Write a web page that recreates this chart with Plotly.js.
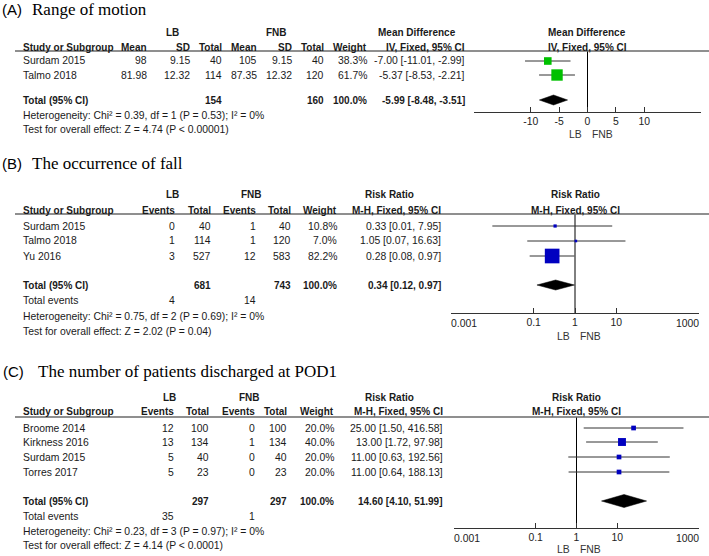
<!DOCTYPE html>
<html><head><meta charset="utf-8">
<script src="https://cdn.plot.ly/plotly-3.0.1.min.js"></script>
<style>html,body{margin:0;padding:0;background:#fff}#chart{width:709px;height:556px}</style>
</head><body><div id="chart"></div>
<script>
// ---------- Panel A: Range of motion ----------
const studiesA = ['Surdam 2015', 'Talmo 2018'];
const meanLB_A = [98, 81.98];
const sdLB_A = [9.15, 12.32];
const totalLB_A = [40, 114];
const meanFNB_A = [105, 87.35];
const sdFNB_A = [9.15, 12.32];
const totalFNB_A = [40, 120];
const weightA = [38.3, 61.7];
const mdA = [-7.00, -5.37];
const mdLowA = [-11.01, -8.53];
const mdHighA = [-2.99, -2.21];
const pooledA = [-5.99, -8.48, -3.51];
const sumTotalsA = [154, 160];
const hetA = 'Heterogeneity: Chi² = 0.39, df = 1 (P = 0.53); I² = 0%';
const testA = 'Test for overall effect: Z = 4.74 (P &lt; 0.00001)';
const tickValsA = [-10, -5, 0, 5, 10];
const tickTextA = ['-10', '-5', '0', '5', '10'];

// ---------- Panel B: The occurrence of fall ----------
const studiesB = ['Surdam 2015', 'Talmo 2018', 'Yu 2016'];
const eventsLB_B = [0, 1, 3];
const totalLB_B = [40, 114, 527];
const eventsFNB_B = [1, 1, 12];
const totalFNB_B = [40, 120, 583];
const weightB = [10.8, 7.0, 82.2];
const rrB = [0.33, 1.05, 0.28];
const rrLowB = [0.01, 0.07, 0.08];
const rrHighB = [7.95, 16.63, 0.97];
const pooledB = [0.34, 0.12, 0.97];
const sumTotalsB = [681, 743];
const sumEventsB = [4, 14];
const hetB = 'Heterogeneity: Chi² = 0.75, df = 2 (P = 0.69); I² = 0%';
const testB = 'Test for overall effect: Z = 2.02 (P = 0.04)';

// ---------- Panel C: discharged at POD1 ----------
const studiesC = ['Broome 2014', 'Kirkness 2016', 'Surdam 2015', 'Torres 2017'];
const eventsLB_C = [12, 13, 5, 5];
const totalLB_C = [100, 134, 40, 23];
const eventsFNB_C = [0, 1, 0, 0];
const totalFNB_C = [100, 134, 40, 23];
const weightC = [20.0, 40.0, 20.0, 20.0];
const rrC = [25.00, 13.00, 11.00, 11.00];
const rrLowC = [1.50, 1.72, 0.63, 0.64];
const rrHighC = [416.58, 97.98, 192.56, 188.13];
const pooledC = [14.60, 4.10, 51.99];
const sumTotalsC = [297, 297];
const sumEventsC = [35, 1];
const hetC = 'Heterogeneity: Chi² = 0.23, df = 3 (P = 0.97); I² = 0%';
const testC = 'Test for overall effect: Z = 4.14 (P &lt; 0.0001)';

const tickValsLog = [0.001, 0.1, 1, 10, 1000];
const tickTextLog = ['0.001', '0.1', '1', '10', '1000'];

// ---------- layout helpers ----------
const W = 709, H = 556;
const FONT = 'Liberation Sans, Arial, sans-serif';
const SERIF = 'Liberation Serif, Times New Roman, serif';
const TXT = '#1a1a1a';
const REG = 10.4, BOLD = 10;
const annotations = [];
const shapes = [];
const traces = [];

function ann(x, y, text, anchor, o) {
  o = o || {};
  annotations.push({
    xref: 'paper', yref: 'paper', x: x / W, y: 1 - y / H, text: text,
    showarrow: false, xanchor: anchor, yanchor: 'middle', borderpad: 0, borderwidth: 0,
    font: {family: o.family || FONT, size: o.size || REG, color: o.color || TXT}
  });
}
function bann(x, y, text, anchor) {
  ann(x, y, '<b>' + text + '</b>', anchor, {size: BOLD});
}
function hline(y, x0, x1) {
  shapes.push({type: 'line', xref: 'paper', yref: 'paper', x0: x0 / W, x1: x1 / W,
    y0: 1 - y / H, y1: 1 - y / H, line: {color: '#6a6a6a', width: 1.6}});
}
const f2 = v => v.toFixed(2);
const ci = (e, l, h) => f2(e) + ' [' + f2(l) + ', ' + f2(h) + ']';
const pct = w => w.toFixed(1) + '%';
const sqSize = w => 1.5 + 0.16 * w;

// end tick labels of the log axes sit inside the axis ends: drawn as axis-referenced text
function innerTickText(arr) { return arr.map((t, i) => (i === 0 || i === arr.length - 1) ? '' : t); }
function endTickLabels(xref, yPix) {
  const last = tickValsLog.length - 1;
  [[0, 'left'], [last, 'right']].forEach(([i, anchor]) => {
    annotations.push({
      xref: xref, yref: 'paper', x: Math.log10(tickValsLog[i]), y: 1 - yPix / H, text: tickTextLog[i],
      showarrow: false, xanchor: anchor, yanchor: 'middle', borderpad: 0, borderwidth: 0,
      font: {family: FONT, size: REG, color: '#222'}
    });
  });
}

function forestTraces(xa, ya, ests, lows, highs, weights, rows, color, pooled, totalY, dh, nullX, yTop, yBottom) {
  traces.push({type: 'scatter', mode: 'lines', x: [nullX, nullX], y: [yTop, yBottom], xaxis: xa, yaxis: ya,
    line: {color: '#000', width: 1}, hoverinfo: 'skip', showlegend: false, cliponaxis: false});
  const lx = [], ly = [];
  ests.forEach((e, i) => { lx.push(lows[i], highs[i], null); ly.push(rows[i], rows[i], null); });
  traces.push({type: 'scatter', mode: 'lines', x: lx, y: ly, xaxis: xa, yaxis: ya,
    line: {color: '#333', width: 1}, hoverinfo: 'skip', showlegend: false, cliponaxis: false});
  traces.push({type: 'scatter', mode: 'markers', x: ests, y: rows, xaxis: xa, yaxis: ya, opacity: 1,
    marker: {symbol: 'square', color: color, opacity: 1, size: weights.map(sqSize), line: {width: 0}},
    hoverinfo: 'skip', showlegend: false, cliponaxis: false});
  traces.push({type: 'scatter', mode: 'lines', fill: 'toself', fillcolor: '#000',
    x: [pooled[1], pooled[0], pooled[2], pooled[0], pooled[1]],
    y: [totalY, totalY - dh, totalY, totalY + dh, totalY], xaxis: xa, yaxis: ya,
    line: {color: '#000', width: 0.5}, hoverinfo: 'skip', showlegend: false, cliponaxis: false});
}

// ---------- Panel A ----------
const PA = {h1: 33, h2: 47, line: 51, rows: [61, 75], total: 100, het: 115, test: 129, axis: 112, lab: 134};
ann(2, 9, '(A)', 'left', {size: 15, color: '#000'});
ann(32, 9, 'Range of motion', 'left', {size: 17, family: SERIF, color: '#000'});
bann(172, PA.h1, 'LB', 'center');
bann(276, PA.h1, 'FNB', 'center');
bann(417, PA.h1, 'Mean Difference', 'center');
bann(587, PA.h1, 'Mean Difference', 'center');
bann(23, PA.h2, 'Study or Subgroup', 'left');
[['Mean', 147], ['SD', 190], ['Total', 222], ['Mean', 257], ['SD', 292], ['Total', 324], ['Weight', 367], ['IV, Fixed, 95% CI', 465]]
  .forEach(h => bann(h[1], PA.h2, h[0], 'right'));
bann(587, PA.h2, 'IV, Fixed, 95% CI', 'center');
hline(PA.line, 15, 709);
studiesA.forEach((s, i) => {
  const y = PA.rows[i];
  ann(23, y, s, 'left');
  ann(147, y, String(meanLB_A[i]), 'right');
  ann(190, y, String(sdLB_A[i]), 'right');
  ann(222, y, String(totalLB_A[i]), 'right');
  ann(257, y, String(meanFNB_A[i]), 'right');
  ann(292, y, String(sdFNB_A[i]), 'right');
  ann(324, y, String(totalFNB_A[i]), 'right');
  ann(367, y, pct(weightA[i]), 'right');
  ann(465, y, ci(mdA[i], mdLowA[i], mdHighA[i]), 'right');
});
bann(23, PA.total, 'Total (95% CI)', 'left');
bann(222, PA.total, String(sumTotalsA[0]), 'right');
bann(324, PA.total, String(sumTotalsA[1]), 'right');
bann(367, PA.total, pct(100), 'right');
bann(465, PA.total, ci(pooledA[0], pooledA[1], pooledA[2]), 'right');
ann(23, PA.het, hetA, 'left');
ann(23, PA.test, testA, 'left');
ann(575, PA.lab, 'LB', 'center', {color: '#333'});
ann(602, PA.lab, 'FNB', 'center', {color: '#333'});
forestTraces('x', 'y', mdA, mdLowA, mdHighA, weightA, PA.rows, '#00c000', pooledA, PA.total, 5, 0, PA.line, PA.axis);

// ---------- Panel B ----------
const PB = {h1: 194, h2: 210, line: 214, rows: [226, 241, 256], total: 285, tev: 300, het: 316, test: 331, axis: 313, lab: 336};
ann(2, 164, '(B)', 'left', {size: 15, color: '#000'});
ann(32, 164, 'The occurrence of fall', 'left', {size: 17, family: SERIF, color: '#000'});
bann(172, PB.h1, 'LB', 'center');
bann(251, PB.h1, 'FNB', 'center');
bann(389, PB.h1, 'Risk Ratio', 'center');
bann(575, PB.h1, 'Risk Ratio', 'center');
bann(23, PB.h2, 'Study or Subgroup', 'left');
[['Events', 175], ['Total', 211], ['Events', 256], ['Total', 291], ['Weight', 337], ['M-H, Fixed, 95% CI', 441]]
  .forEach(h => bann(h[1], PB.h2, h[0], 'right'));
bann(575, PB.h2, 'M-H, Fixed, 95% CI', 'center');
hline(PB.line, 15, 709);
studiesB.forEach((s, i) => {
  const y = PB.rows[i];
  ann(23, y, s, 'left');
  ann(175, y, String(eventsLB_B[i]), 'right');
  ann(211, y, String(totalLB_B[i]), 'right');
  ann(256, y, String(eventsFNB_B[i]), 'right');
  ann(291, y, String(totalFNB_B[i]), 'right');
  ann(337, y, pct(weightB[i]), 'right');
  ann(441, y, ci(rrB[i], rrLowB[i], rrHighB[i]), 'right');
});
bann(23, PB.total, 'Total (95% CI)', 'left');
bann(211, PB.total, String(sumTotalsB[0]), 'right');
bann(291, PB.total, String(sumTotalsB[1]), 'right');
bann(337, PB.total, pct(100), 'right');
bann(441, PB.total, ci(pooledB[0], pooledB[1], pooledB[2]), 'right');
ann(23, PB.tev, 'Total events', 'left');
ann(175, PB.tev, String(sumEventsB[0]), 'right');
ann(256, PB.tev, String(sumEventsB[1]), 'right');
ann(23, PB.het, hetB, 'left');
ann(23, PB.test, testB, 'left');
ann(563, PB.lab, 'LB', 'center', {color: '#333'});
ann(590, PB.lab, 'FNB', 'center', {color: '#333'});
endTickLabels('x2', PB.axis + 10);
forestTraces('x2', 'y2', rrB, rrLowB, rrHighB, weightB, PB.rows, '#0000c0', pooledB, PB.total, 5, 1, PB.line, PB.axis);

// ---------- Panel C ----------
const PC = {h1: 397, h2: 412, line: 417, rows: [428, 442, 457, 472], total: 501, tev: 516, het: 531, test: 545, axis: 528, lab: 549};
ann(3, 372, '(C)', 'left', {size: 15, color: '#000'});
ann(38, 372, 'The number of patients discharged at POD1', 'left', {size: 17, family: SERIF, color: '#000'});
bann(169, PC.h1, 'LB', 'center');
bann(249, PC.h1, 'FNB', 'center');
bann(389, PC.h1, 'Risk Ratio', 'center');
bann(576, PC.h1, 'Risk Ratio', 'center');
bann(23, PC.h2, 'Study or Subgroup', 'left');
[['Events', 174], ['Total', 209], ['Events', 255], ['Total', 287], ['Weight', 334], ['M-H, Fixed, 95% CI', 443]]
  .forEach(h => bann(h[1], PC.h2, h[0], 'right'));
bann(576, PC.h2, 'M-H, Fixed, 95% CI', 'center');
hline(PC.line, 15, 709);
studiesC.forEach((s, i) => {
  const y = PC.rows[i];
  ann(23, y, s, 'left');
  ann(174, y, String(eventsLB_C[i]), 'right');
  ann(209, y, String(totalLB_C[i]), 'right');
  ann(255, y, String(eventsFNB_C[i]), 'right');
  ann(287, y, String(totalFNB_C[i]), 'right');
  ann(334, y, pct(weightC[i]), 'right');
  ann(443, y, ci(rrC[i], rrLowC[i], rrHighC[i]), 'right');
});
bann(23, PC.total, 'Total (95% CI)', 'left');
bann(209, PC.total, String(sumTotalsC[0]), 'right');
bann(287, PC.total, String(sumTotalsC[1]), 'right');
bann(334, PC.total, pct(100), 'right');
bann(443, PC.total, ci(pooledC[0], pooledC[1], pooledC[2]), 'right');
ann(23, PC.tev, 'Total events', 'left');
ann(174, PC.tev, String(sumEventsC[0]), 'right');
ann(255, PC.tev, String(sumEventsC[1]), 'right');
ann(23, PC.het, hetC, 'left');
ann(23, PC.test, testC, 'left');
ann(563, PC.lab, 'LB', 'center', {color: '#333'});
ann(590, PC.lab, 'FNB', 'center', {color: '#333'});
endTickLabels('x3', PC.axis + 10);
forestTraces('x3', 'y3', rrC, rrLowC, rrHighC, weightC, PC.rows, '#0000c0', pooledC, PC.total, 6.5, 1, PC.line, PC.axis);

// ---------- axes ----------
function xAxis(dom, anchor, extra) {
  return Object.assign({
    domain: [dom[0] / W, dom[1] / W], anchor: anchor, showgrid: false, zeroline: false,
    showline: true, linecolor: '#333', linewidth: 1, ticks: 'inside', ticklen: 5, tickwidth: 1, tickcolor: '#333',
    tickmode: 'array', tickfont: {family: FONT, size: REG, color: '#222'}, fixedrange: true
  }, extra);
}
function yAxis(top, bottom) {
  return {domain: [1 - bottom / H, 1 - top / H], range: [bottom, top], autorange: false, visible: false, fixedrange: true};
}
const layout = {
  width: W, height: H, margin: {l: 0, r: 0, t: 0, b: 0},
  paper_bgcolor: '#fff', plot_bgcolor: 'rgba(0,0,0,0)', showlegend: false,
  xaxis: xAxis([474, 701], 'y', {range: [-20, 20], tickvals: tickValsA, ticktext: tickTextA}),
  yaxis: yAxis(PA.line, PA.axis),
  xaxis2: xAxis([451, 699], 'y2', {type: 'log', range: [-3, 3], tickvals: tickValsLog, ticktext: innerTickText(tickTextLog)}),
  yaxis2: yAxis(PB.line, PB.axis),
  xaxis3: xAxis([454, 699], 'y3', {type: 'log', range: [-3, 3], tickvals: tickValsLog, ticktext: innerTickText(tickTextLog)}),
  yaxis3: yAxis(PC.line, PC.axis),
  annotations: annotations, shapes: shapes
};
Plotly.newPlot('chart', traces, layout, {displayModeBar: false, staticPlot: true});
</script></body></html>
